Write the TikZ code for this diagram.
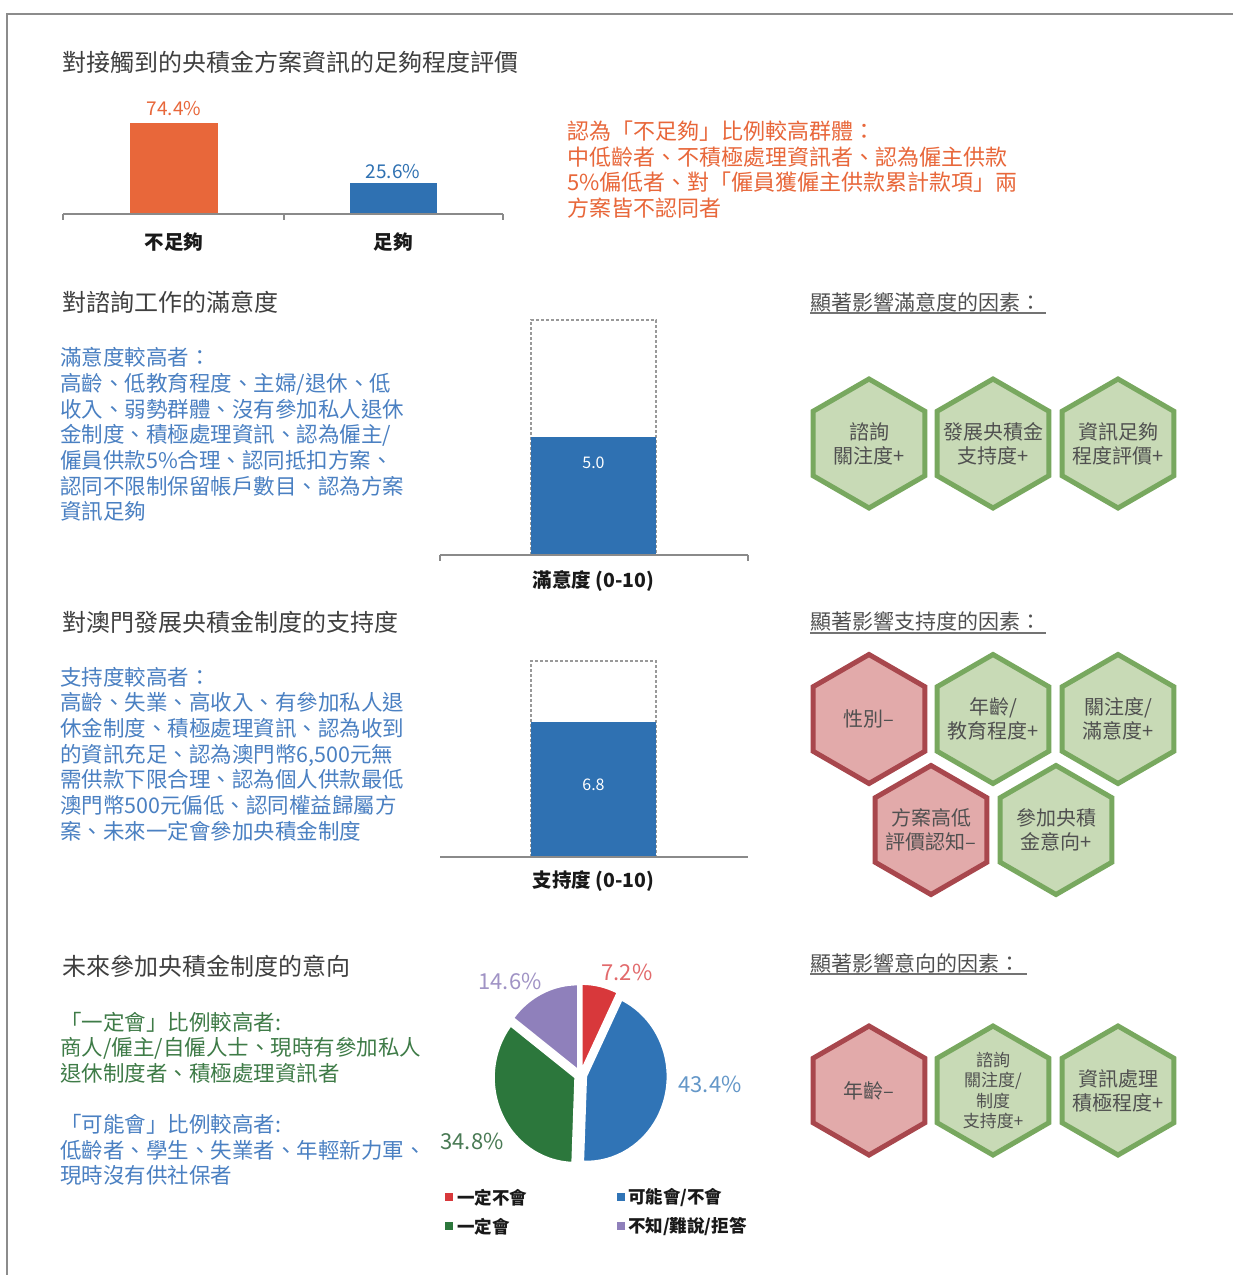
\documentclass[tikz,border=0pt]{standalone}
\usepackage{fontspec}
\setmainfont{Noto Sans CJK TC}
\usetikzlibrary{shapes.geometric}
\definecolor{titlegray}{HTML}{3F3F3F}
\definecolor{rgray}{HTML}{505050}
\definecolor{orangec}{HTML}{E8673A}
\definecolor{barblue}{HTML}{2F71B2}
\definecolor{txtblue}{HTML}{4A80C2}
\definecolor{txtgreen}{HTML}{3E7B47}
\definecolor{axisgray}{HTML}{8A8A8A}
\definecolor{hexgfill}{HTML}{C8DAB6}
\definecolor{hexgline}{HTML}{78A85F}
\definecolor{hexrfill}{HTML}{E2AAAA}
\definecolor{hexrline}{HTML}{A8474D}
\definecolor{hextxt}{HTML}{505050}
\definecolor{pred}{HTML}{D8383B}
\definecolor{pblue}{HTML}{3074B6}
\definecolor{pgreen}{HTML}{2C773C}
\definecolor{ppurple}{HTML}{8F80BB}
\begin{document}
\begin{tikzpicture}[x=1pt,y=-1pt,
  title/.style={anchor=west, inner sep=0pt, text=titlegray, font=\fontsize{24}{28}\selectfont},
  rtitle/.style={anchor=west, inner sep=0pt, text=rgray, font=\fontsize{21}{25}\selectfont},
  blk/.style={anchor=west, inner sep=0pt, align=left, font=\fontsize{21.5}{25.7}\selectfont},
  axisline/.style={draw=axisgray, line width=1.5pt},
  uline/.style={draw=rgray!80, line width=1.5pt},
  catlab/.style={inner sep=0pt, text=black!90, font=\bfseries\fontsize{19.5}{22}\selectfont},
  dashbox/.style={draw=gray!80, line width=1.3pt, dash pattern=on 3pt off 2pt},
  hexbase/.style={regular polygon, regular polygon sides=6, shape border rotate=30, minimum size=129pt, inner sep=0pt, line width=5pt},
  hexg/.style={hexbase, fill=hexgfill, draw=hexgline},
  hexr/.style={hexbase, fill=hexrfill, draw=hexrline},
  hextext/.style={align=center, text=hextxt, inner sep=0pt, font=\fontsize{20}{24}\selectfont},
  hexsmall/.style={align=center, text=hextxt, inner sep=0pt, font=\fontsize{17}{20.3}\selectfont},
  pielab/.style={inner sep=0pt, font=\fontsize{22}{26}\selectfont},
  leg/.style={anchor=west, inner sep=0pt, text=black!90, font=\bfseries\fontsize{17.5}{20}\selectfont},
  slice/.style={draw=white, line width=1.5pt}
]
\useasboundingbox (0,0) rectangle (1233,1275);
\fill[white] (0,0) rectangle (1233,1275);
% frame
\draw[draw=gray!90, line width=2pt] (7,1275) -- (7,14) -- (1233,14);

% ===== Section 1 =====
\node[title] (t1) at (62,62) {對接觸到的央積金方案資訊的足夠程度評價};
\fill[orangec] (130,214) rectangle (218,123);
\fill[barblue] (350,214) rectangle (437,183);
\draw[axisline] (63,214) -- (503,214);
\draw[axisline] (63,214) -- (63,220);
\draw[axisline] (284,214) -- (284,220);
\draw[axisline] (503,214) -- (503,220);
\node[inner sep=0pt, text=orangec, font=\fontsize{19}{22}\selectfont] (v1) at (174,109) {74.4\%};
\node[inner sep=0pt, text=barblue, font=\fontsize{19}{22}\selectfont] (v2) at (393,172) {25.6\%};
\node[catlab] (c1) at (174,242) {不足夠};
\node[catlab] (c2) at (393,242) {足夠};
\node[blk, text=orangec, font=\fontsize{22}{25.7}\selectfont] (ob) at (567,169.5) {認為「不足夠」比例較高群體：\\中低齡者、不積極處理資訊者、認為僱主供款\\5\%偏低者、對「僱員獲僱主供款累計款項」兩\\方案皆不認同者};

% ===== Section 2 =====
\node[title] (t2) at (62,302) {對諮詢工作的滿意度};
\node[blk, text=txtblue] (b1) at (60,434.5) {滿意度較高者：\\高齡、低教育程度、主婦/退休、低\\收入、弱勢群體、沒有參加私人退休\\金制度、積極處理資訊、認為僱主/\\僱員供款5\%合理、認同抵扣方案、\\認同不限制保留帳戶數目、認為方案\\資訊足夠};
\draw[dashbox] (531,555) -- (531,320) -- (656,320) -- (656,555);
\fill[barblue] (531,555) rectangle (656,437);
\node[inner sep=0pt, text=white, font=\fontsize{16}{20}\selectfont] (s1v) at (593.5,463) {5.0};
\draw[axisline] (440,555) -- (748,555);
\draw[axisline] (440,555) -- (440,561);
\draw[axisline] (748,555) -- (748,561);
\node[catlab] (s1l) at (593.5,581) {滿意度 (0-10)};

\node[rtitle] (r1) at (810,302) {顯著影響滿意度的因素：};
\draw[uline] (810,313) -- (1046,313);
\node[hexg, label={[hextext]center:{諮詢\\關注度+}}] (h11) at (869,443.5) {};
\node[hexg, label={[hextext]center:{發展央積金\\支持度+}}] (h12) at (993,443.5) {};
\node[hexg, label={[hextext]center:{資訊足夠\\程度評價+}}] (h13) at (1118,443.5) {};

% ===== Section 3 =====
\node[title] (t3) at (62,622) {對澳門發展央積金制度的支持度};
\node[blk, text=txtblue] (b2) at (60,754) {支持度較高者：\\高齡、失業、高收入、有參加私人退\\休金制度、積極處理資訊、認為收到\\的資訊充足、認為澳門幣6,500元無\\需供款下限合理、認為個人供款最低\\澳門幣500元偏低、認同權益歸屬方\\案、未來一定會參加央積金制度};
\draw[dashbox] (531,857) -- (531,661) -- (656,661) -- (656,857);
\fill[barblue] (531,857) rectangle (656,722);
\node[inner sep=0pt, text=white, font=\fontsize{16}{20}\selectfont] (s2v) at (593.5,785) {6.8};
\draw[axisline] (440,857) -- (748,857);
\node[catlab] (s2l) at (593.5,881) {支持度 (0-10)};

\node[rtitle] (r2) at (810,621) {顯著影響支持度的因素：};
\draw[uline] (810,633) -- (1046,633);
\node[hexr, label={[hextext]center:{性別–}}] (h21) at (869,719) {};
\node[hexg, label={[hextext]center:{年齡/\\教育程度+}}] (h22) at (993,719) {};
\node[hexg, label={[hextext]center:{關注度/\\滿意度+}}] (h23) at (1118,719) {};
\node[hexr, label={[hextext]center:{方案高低\\評價認知–}}] (h24) at (931,830) {};
\node[hexg, label={[hextext]center:{參加央積\\金意向+}}] (h25) at (1056,830) {};

% ===== Section 4 =====
\node[title] (t4) at (62,966) {未來參加央積金制度的意向};
\node[blk, text=txtgreen] (g1) at (60,1047.5) {「一定會」比例較高者:\\商人/僱主/自僱人士、現時有參加私人\\退休制度者、積極處理資訊者};
\node[blk, text=txtblue] (b3) at (60,1150) {「可能會」比例較高者:\\低齡者、學生、失業者、年輕新力軍、\\現時沒有供社保者};

% pie
\begin{scope}[shift={(580.5,1075)}]
\filldraw[slice, fill=pred, shift={(-77.05:6)}] (0,0) -- (-90:81 and 85) arc[start angle=-90, end angle=-64.1, x radius=81, y radius=85] -- cycle;
\filldraw[slice, fill=pblue, shift={(14:6)}] (0,0) -- (-64.1:81 and 85) arc[start angle=-64.1, end angle=92.1, x radius=81, y radius=85] -- cycle;
\filldraw[slice, fill=pgreen, shift={(154.75:6)}] (0,0) -- (92.1:81 and 85) arc[start angle=92.1, end angle=217.4, x radius=81, y radius=85] -- cycle;
\filldraw[slice, fill=ppurple, shift={(243.7:6)}] (0,0) -- (217.4:81 and 85) arc[start angle=217.4, end angle=270, x radius=81, y radius=85] -- cycle;
\end{scope}
\node[pielab, text=pred!75] (p1) at (627,972) {7.2\%};
\node[pielab, text=ppurple!85] (p2) at (510,981) {14.6\%};
\node[pielab, text=pblue!75] (p3) at (710,1084) {43.4\%};
\node[pielab, text=pgreen!65!gray] (p4) at (472,1141) {34.8\%};
% legend
\fill[pred] (445,1193) rectangle (453,1201);
\node[leg] (l1) at (457,1197.5) {一定不會};
\fill[pblue] (616.5,1193) rectangle (624.5,1201);
\node[leg] (l2) at (628,1197.5) {可能會/不會};
\fill[pgreen] (445,1222) rectangle (453,1230);
\node[leg] (l3) at (457,1226.5) {一定會};
\fill[ppurple] (616.5,1222) rectangle (624.5,1230);
\node[leg] (l4) at (628,1226.5) {不知/難說/拒答};

\node[rtitle] (r3) at (810,963) {顯著影響意向的因素：};
\draw[uline] (810,974) -- (1027,974);
\node[hexr, label={[hextext]center:{年齡–}}] (h31) at (869,1090.5) {};
\node[hexg, label={[hexsmall]center:{諮詢\\關注度/\\制度\\支持度+}}] (h32) at (993,1090.5) {};
\node[hexg, label={[hextext]center:{資訊處理\\積極程度+}}] (h33) at (1118,1090.5) {};
\end{tikzpicture}
\end{document}
